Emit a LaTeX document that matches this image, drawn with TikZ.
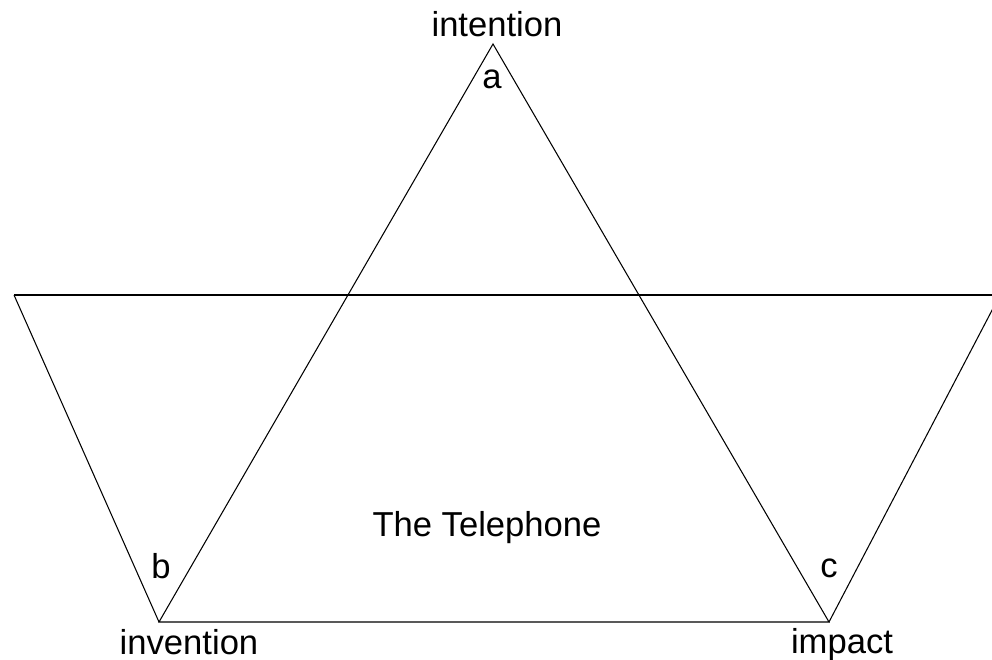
\documentclass[tikz,border=0pt]{standalone}
\usepackage{fontspec}
\setmainfont{Liberation Sans}
\usetikzlibrary{positioning}

\tikzset{
  word/.style={font=\fontsize{19.7}{23}\selectfont, inner sep=0pt, anchor=base},
  edge/.style={line width=0.6pt, line join=miter}
}

\begin{document}
\begin{tikzpicture}[x=0.02cm,y=-0.02cm]
		\useasboundingbox (0,0) rectangle (992,660);
		\clip (0,0) rectangle (992,660);
		
		% corners of the triangle and of the trapezoid
		\coordinate (a) at (493,44);
		\coordinate (b) at (159,622);
		\coordinate (c) at (829,622);
		\coordinate (tl) at (14,295);
		\coordinate (tr) at (1000,295);
		
		\draw[edge] (a) -- (b) -- (c) -- cycle;
		\draw[edge] (tl) -- (tr);
		\draw[edge] (tl) -- (b);
		\draw[edge] (c) -- (tr);
		
		% labels
		\node[word] (intention) at (497,36) {intention};
		\node[word] (la) at (492,88) {a};
		\node[word] (lb) at (161,578) {b};
		\node[word] (lc) at (829,577) {c};
		\node[word] (invention) at (189,654) {invention};
		\node[word] (impact) at (842,653) {impact};
		\node[word] (title) at (487,536) {The Telephone};
	\end{tikzpicture}
\end{document}
